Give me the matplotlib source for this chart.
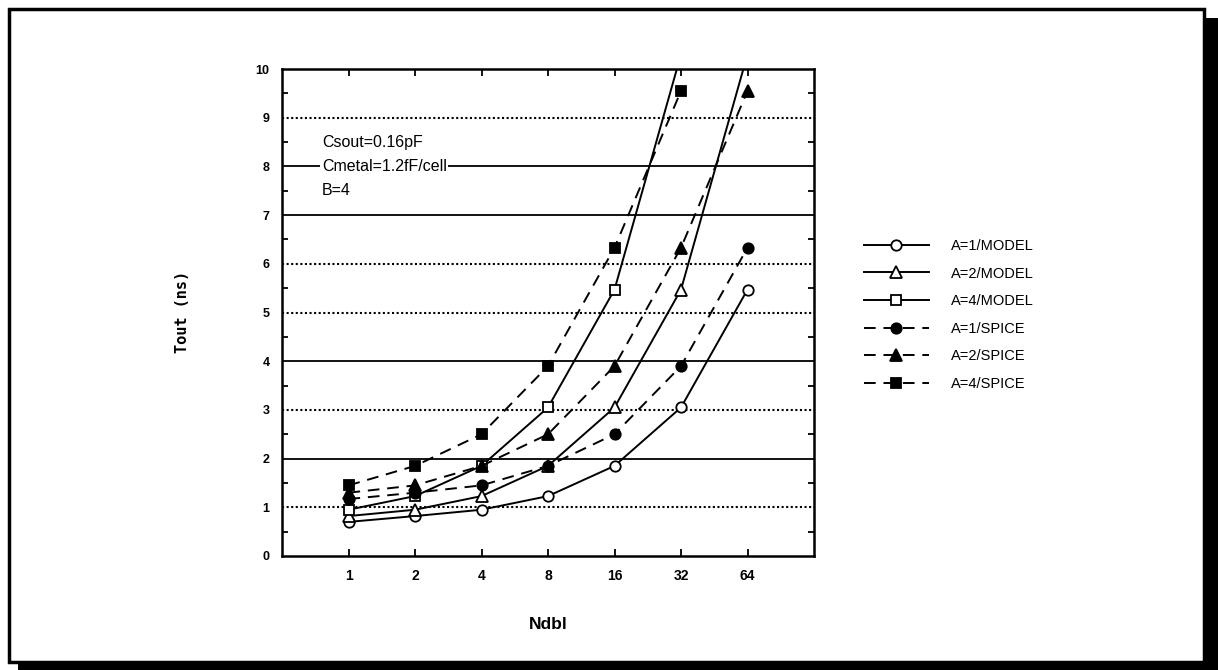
import matplotlib
matplotlib.use("Agg")
import matplotlib.pyplot as plt
from matplotlib.patches import Rectangle

# Ndbl values on the x axis (equally spaced, powers of two)
ndbl = [1, 2, 4, 8, 16, 32, 64]
ndbl_labels = ["1", "2", "4", "8", "16", "32", "64"]

# Output delay (ns), analytical model
model_a1 = [0.70, 0.82, 0.95, 1.23, 1.85, 3.05, 5.47]
model_a2 = [0.82, 0.95, 1.23, 1.85, 3.05, 5.47, 10.3]
model_a4 = [0.95, 1.23, 1.85, 3.05, 5.47, 10.3]

# Output delay (ns), SPICE simulation
spice_a1 = [1.17, 1.30, 1.45, 1.85, 2.50, 3.90, 6.33]
spice_a2 = [1.30, 1.45, 1.85, 2.50, 3.90, 6.33, 9.55]
spice_a4 = [1.45, 1.85, 2.50, 3.90, 6.33, 9.55]

series = [
    ("A=1/MODEL", model_a1, "o", "-", "white"),
    ("A=2/MODEL", model_a2, "^", "-", "white"),
    ("A=4/MODEL", model_a4, "s", "-", "white"),
    ("A=1/SPICE", spice_a1, "o", "--", "black"),
    ("A=2/SPICE", spice_a2, "^", "--", "black"),
    ("A=4/SPICE", spice_a4, "s", "--", "black"),
]

solid_grid = [2, 4, 7, 8]
dotted_grid = [1, 3, 5, 6, 9]

plt.rcParams["font.family"] = ["Liberation Sans", "DejaVu Sans"]

W, H = 1218, 670
fig = plt.figure(figsize=(W / 100, H / 100), dpi=100)
ax = fig.add_axes([282 / W, 1 - 556 / H, (814 - 282) / W, (556 - 69) / H])

pos = list(range(1, len(ndbl) + 1))

for y in solid_grid:
    ax.axhline(y, color="black", lw=1.3, zorder=1)
for y in dotted_grid:
    ax.axhline(y, color="black", lw=1.5, ls=(0, (1, 1.2)), zorder=1)

handles = []
for label, vals, mk, ls, fc in series:
    x = pos[:len(vals)]
    dash = (0, (6, 4)) if ls == "--" else "-"
    (ln,) = ax.plot(x, vals, color="black", lw=1.4, ls=dash, marker=mk,
                    markersize=7.5 if mk != "^" else 8, markerfacecolor=fc,
                    markeredgecolor="black", markeredgewidth=1.3,
                    label=label, zorder=3, clip_on=True)
    handles.append(ln)

ax.set_xlim(0, 8)
ax.set_ylim(0, 10)

ax.set_xticks(pos)
ax.set_xticklabels(ndbl_labels)
ax.set_yticks(range(0, 11))
ax.set_yticks([i + 0.5 for i in range(10)], minor=True)
ax.tick_params(axis="both", which="major", direction="in", length=5, width=1.3,
               top=True, right=False)
ax.tick_params(axis="y", which="major", length=0, pad=9, labelsize=9)
ax.tick_params(axis="x", which="major", pad=9, labelsize=10)
ax.tick_params(axis="y", which="minor", direction="in", length=4, width=1.3,
               left=True, right=True)
for t in ax.get_xticklabels() + ax.get_yticklabels():
    t.set_fontweight("bold")

for sp in ax.spines.values():
    sp.set_linewidth(1.8)

ax.set_ylabel("Tout (ns)", family="DejaVu Sans Mono", fontweight="bold",
              fontsize=11, labelpad=0)
ax.yaxis.set_label_coords((190 - 282) / (814 - 282), (556 - 312) / (556 - 69))
ax.set_xlabel("Ndbl", fontweight="bold", fontsize=12.5)
ax.xaxis.set_label_coords((548 - 282) / (814 - 282), (556 - 617) / (556 - 69))

ax.text(0.6, 8.5, "Csout=0.16pF", fontsize=11.5, va="center", ha="left", zorder=4)
ax.text(0.6, 8.0, "Cmetal=1.2fF/cell", fontsize=11.5, va="center", ha="left",
        zorder=4, bbox=dict(facecolor="white", edgecolor="none", pad=1))
ax.text(0.6, 7.5, "B=4", fontsize=11.5, va="center", ha="left", zorder=4)

leg = fig.legend(handles=handles, loc="upper left",
                 bbox_to_anchor=(864 / W, 1 - 239 / H), frameon=False,
                 fontsize=10.5, handlelength=4.45, handletextpad=1.5,
                 labelspacing=0.93, borderpad=0, borderaxespad=0)

# page frame with drop shadow
fig.add_artist(Rectangle((9 / W, 1 - 662 / H), (1204 - 9) / W, (662 - 9) / H,
                         transform=fig.transFigure, fill=False,
                         edgecolor="black", lw=2.5))
fig.add_artist(Rectangle((1204 / W, 0), 14 / W, 1 - 18 / H,
                         transform=fig.transFigure, facecolor="black",
                         edgecolor="none"))
fig.add_artist(Rectangle((18 / W, 0), 1 - 18 / W, 8 / H,
                         transform=fig.transFigure, facecolor="black",
                         edgecolor="none"))

fig.savefig("out.png", dpi=100, facecolor="white")
